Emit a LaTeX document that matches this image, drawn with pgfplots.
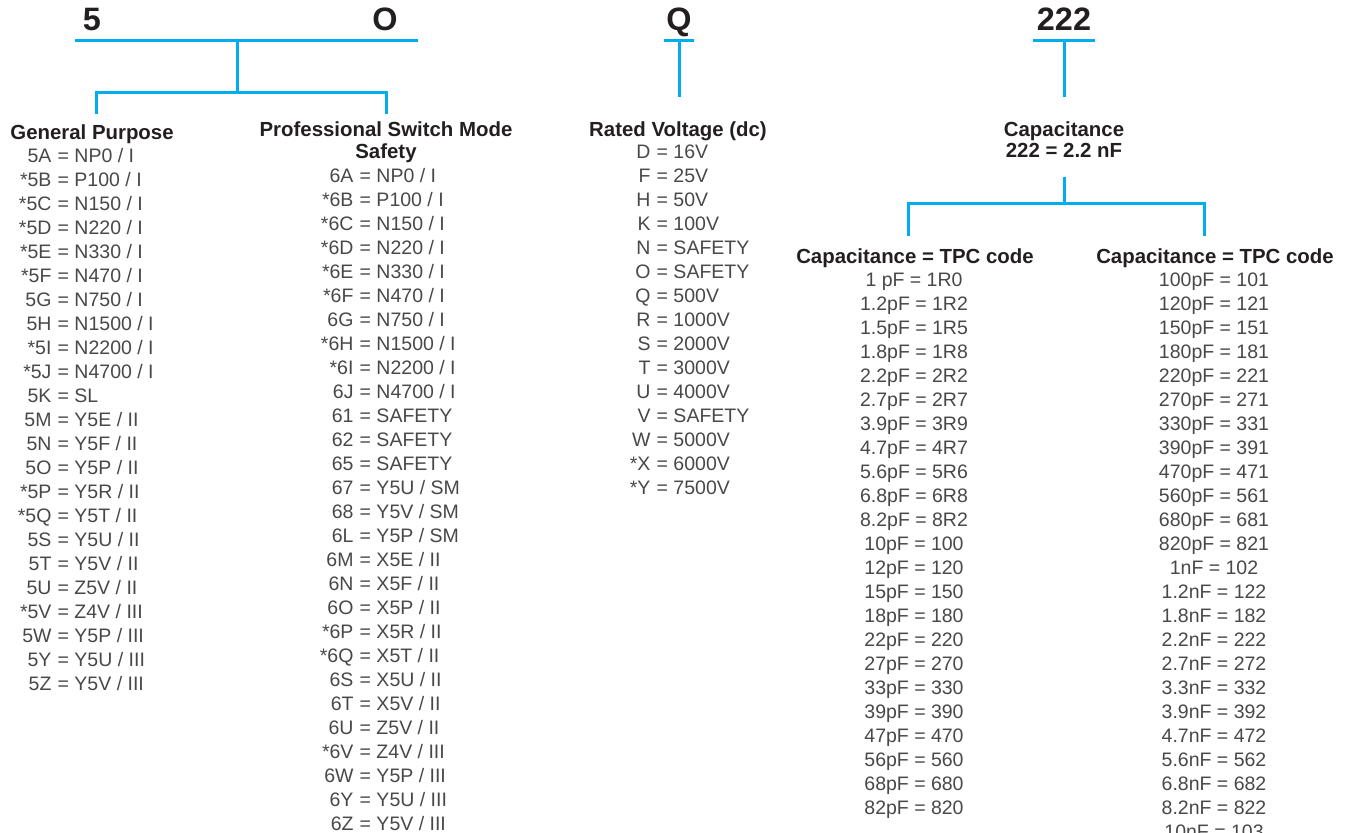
\documentclass[border=0pt]{standalone}
\usepackage{fontspec}
\setmainfont{Liberation Sans}
\usepackage{pgfplots}
\pgfplotsset{compat=1.18}

\definecolor{lineblue}{HTML}{00AEEF}
\definecolor{txt}{HTML}{484848}
\definecolor{head}{HTML}{231F20}
\newcommand{\rowfont}{\fontsize{9.75}{12}\selectfont}
\newcommand{\headfont}{\fontsize{10.2}{12}\selectfont\bfseries}
\newcommand{\topfont}{\fontsize{16.2}{18}\selectfont\bfseries}
\tikzset{
  rows/.style={inner sep=0pt, font=\rowfont, text=txt},
  hd/.style={inner sep=0pt, font=\headfont, text=head},
  top/.style={anchor=base, inner sep=0pt, font=\topfont, text=head},
  conn/.style={lineblue, line width=1.5pt, mark=none},
}

\begin{document}
\begin{tikzpicture}
  \begin{axis}[
    scale only axis,
    width=677pt, height=416.5pt,
    xmin=0, xmax=1354, ymin=0, ymax=833,
    y dir=reverse,
    hide axis,
    clip=false,
  ]
    % connector lines (pixel coordinates, y downwards)
    \addplot[conn] coordinates {(75,41) (418,41)};
    \addplot[conn] coordinates {(237,41) (237,93)};
    \addplot[conn] coordinates {(96,114) (96,93) (386,93) (386,114)};
    \addplot[conn] coordinates {(664,41) (694,41)};
    \addplot[conn] coordinates {(679,41) (679,97)};
    \addplot[conn] coordinates {(1033,41) (1095,41)};
    \addplot[conn] coordinates {(1064,41) (1064,97)};
    \addplot[conn] coordinates {(1064,177) (1064,204)};
    \addplot[conn] coordinates {(908,236) (908,204) (1204,204) (1204,236)};

    % code letters
    \node[top] at (92,30.5) {5};
    \node[top] at (385,30.5) {O};
    \node[top] at (679,30.5) {Q};
    \node[top] at (1064,30.5) {222};

    % headings
    \node[hd, anchor=base west] at (10,139.5) {General Purpose};
    \node[hd, anchor=base] at (386,136.5) {Professional Switch Mode};
    \node[hd, anchor=base] at (386,158.5) {Safety};
    \node[hd, anchor=base] at (678,136.5) {Rated Voltage (dc)};
    \node[hd, anchor=base] at (1064,136.5) {Capacitance};
    \node[hd, anchor=base] at (1064,157.5) {222 = 2.2 nF};
    \node[hd, anchor=base] at (915,263.5) {Capacitance = TPC code};
    \node[hd, anchor=base] at (1215,263.5) {Capacitance = TPC code};

    % General Purpose
    \node[rows, anchor=base east] at (51.9,163) {\begin{tabular}[t]{@{}r@{}}
      5A\\{*}5B\\{*}5C\\{*}5D\\{*}5E\\{*}5F\\5G\\5H\\{*}5I\\{*}5J\\5K\\5M\\5N\\5O\\{*}5P\\{*}5Q\\5S\\5T\\5U\\{*}5V\\5W\\5Y\\5Z
    \end{tabular}};
    \node[rows, anchor=base west] at (57.3,163) {\begin{tabular}[t]{@{}l@{}}
      = NP0 / I\\= P100 / I\\= N150 / I\\= N220 / I\\= N330 / I\\= N470 / I\\= N750 / I\\= N1500 / I\\= N2200 / I\\= N4700 / I\\= SL\\
      = Y5E / II\\= Y5F / II\\= Y5P / II\\= Y5R / II\\= Y5T / II\\= Y5U / II\\= Y5V / II\\= Z5V / II\\= Z4V / III\\= Y5P / III\\= Y5U / III\\= Y5V / III
    \end{tabular}};

    % Professional Switch Mode Safety
    \node[rows, anchor=base east] at (353.9,183) {\begin{tabular}[t]{@{}r@{}}
      6A\\{*}6B\\{*}6C\\{*}6D\\{*}6E\\{*}6F\\6G\\{*}6H\\{*}6I\\6J\\61\\62\\65\\67\\68\\6L\\6M\\6N\\6O\\{*}6P\\{*}6Q\\6S\\6T\\6U\\{*}6V\\6W\\6Y\\6Z
    \end{tabular}};
    \node[rows, anchor=base west] at (359.3,183) {\begin{tabular}[t]{@{}l@{}}
      = NP0 / I\\= P100 / I\\= N150 / I\\= N220 / I\\= N330 / I\\= N470 / I\\= N750 / I\\= N1500 / I\\= N2200 / I\\= N4700 / I\\
      = SAFETY\\= SAFETY\\= SAFETY\\= Y5U / SM\\= Y5V / SM\\= Y5P / SM\\
      = X5E / II\\= X5F / II\\= X5P / II\\= X5R / II\\= X5T / II\\= X5U / II\\= X5V / II\\= Z5V / II\\= Z4V / III\\= Y5P / III\\= Y5U / III\\= Y5V / III
    \end{tabular}};

    % Rated Voltage
    \node[rows, anchor=base east] at (650.9,159) {\begin{tabular}[t]{@{}r@{}}
      D\\F\\H\\K\\N\\O\\Q\\R\\S\\T\\U\\V\\W\\{*}X\\{*}Y
    \end{tabular}};
    \node[rows, anchor=base west] at (656.3,159) {\begin{tabular}[t]{@{}l@{}}
      = 16V\\= 25V\\= 50V\\= 100V\\= SAFETY\\= SAFETY\\= 500V\\= 1000V\\= 2000V\\= 3000V\\= 4000V\\= SAFETY\\= 5000V\\= 6000V\\= 7500V
    \end{tabular}};

    % Capacitance = TPC code
    \node[rows, anchor=base] at (914,287) {\begin{tabular}[t]{@{}c@{}}
      1 pF = 1R0\\1.2pF = 1R2\\1.5pF = 1R5\\1.8pF = 1R8\\2.2pF = 2R2\\2.7pF = 2R7\\3.9pF = 3R9\\4.7pF = 4R7\\5.6pF = 5R6\\6.8pF = 6R8\\8.2pF = 8R2\\
      10pF = 100\\12pF = 120\\15pF = 150\\18pF = 180\\22pF = 220\\27pF = 270\\33pF = 330\\39pF = 390\\47pF = 470\\56pF = 560\\68pF = 680\\82pF = 820
    \end{tabular}};
    \node[rows, anchor=base] at (1214,287) {\begin{tabular}[t]{@{}c@{}}
      100pF = 101\\120pF = 121\\150pF = 151\\180pF = 181\\220pF = 221\\270pF = 271\\330pF = 331\\390pF = 391\\470pF = 471\\560pF = 561\\680pF = 681\\820pF = 821\\
      1nF = 102\\1.2nF = 122\\1.8nF = 182\\2.2nF = 222\\2.7nF = 272\\3.3nF = 332\\3.9nF = 392\\4.7nF = 472\\5.6nF = 562\\6.8nF = 682\\8.2nF = 822\\10nF = 103
    \end{tabular}};
  \end{axis}
  \pgfresetboundingbox
  \path[use as bounding box] (current axis.south west) rectangle (current axis.north east);
\end{tikzpicture}
\end{document}
